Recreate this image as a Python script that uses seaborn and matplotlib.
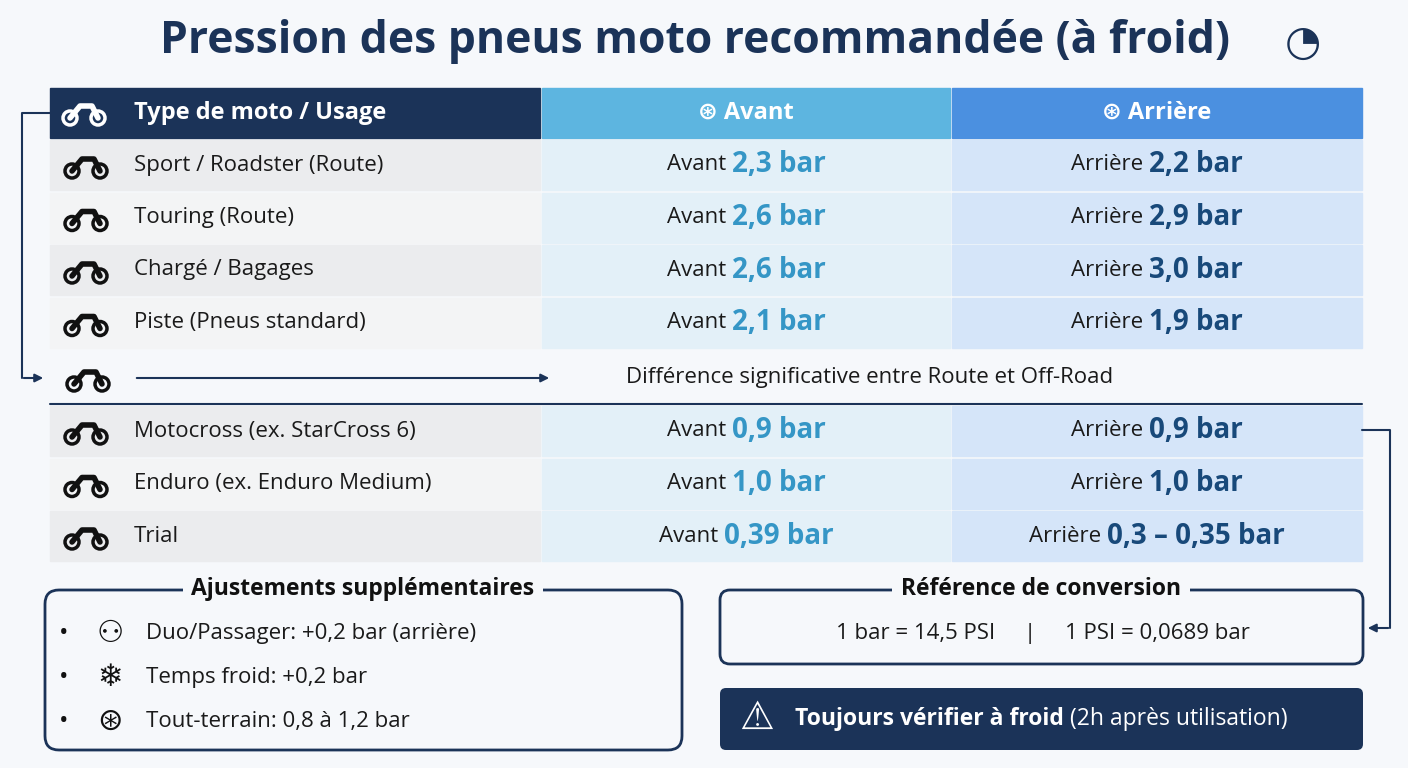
import matplotlib
matplotlib.use("Agg")
import matplotlib.pyplot as plt
import seaborn as sns
from matplotlib.patches import Rectangle, FancyBboxPatch, Circle

sns.set_theme(style="white")
plt.rcParams['font.family'] = ['Open Sans', 'DejaVu Sans']

road_types = ["Sport / Roadster (Route)", "Touring (Route)", "Chargé / Bagages", "Piste (Pneus standard)"]
road_front = ["2,3 bar", "2,6 bar", "2,6 bar", "2,1 bar"]
road_rear = ["2,2 bar", "2,9 bar", "3,0 bar", "1,9 bar"]
off_types = ["Motocross (ex. StarCross 6)", "Enduro (ex. Enduro Medium)", "Trial"]
off_front = ["0,9 bar", "1,0 bar", "0,39 bar"]
off_rear = ["0,9 bar", "1,0 bar", "0,3 – 0,35 bar"]
adjustments = ["Duo/Passager: +0,2 bar (arrière)", "Temps froid: +0,2 bar", "Tout-terrain: 0,8 à 1,2 bar"]

NAVY = "#1b3358"
FRONT_C = "#3596c6"
REAR_C = "#18497a"

fig = plt.figure(figsize=(14.08, 7.68), dpi=100)
ax = fig.add_axes([0, 0, 1, 1])
ax.set_xlim(0, 1408)
ax.set_ylim(768, 0)
ax.axis("off")
fig.patch.set_facecolor("#f6f8fb")
renderer = fig.canvas.get_renderer()

ax.text(695, 42, "Pression des pneus moto recommandée (à froid)", ha="center", va="center",
        fontsize=32, fontweight="bold", color=NAVY)
ax.text(1303, 44, "◔", ha="center", va="center", fontsize=30, color=NAVY)

cols = [(50, 540), (542, 950), (952, 1362)]

def bike(x, y, c="#111111"):
    ax.add_patch(Circle((x - 10, y + 6), 7, fill=False, lw=2.5, color=c))
    ax.add_patch(Circle((x + 18, y + 6), 7, fill=False, lw=2.5, color=c))
    ax.plot([x - 10, x, x + 12, x + 18], [y + 6, y - 6, y - 6, y + 6], color=c, lw=4)

def pair(xc, y, label, value, color):
    t1 = ax.text(0, y, label + " ", ha="left", va="center", fontsize=16, color="#1a1a1a")
    t2 = ax.text(0, y, value, ha="left", va="center", fontsize=20, fontweight="bold", color=color)
    inv = ax.transData.inverted()
    def w(t):
        bb = t.get_window_extent(renderer)
        return inv.transform((bb.x1, 0))[0] - inv.transform((bb.x0, 0))[0]
    w1, w2 = w(t1), w(t2)
    x0 = xc - (w1 + w2) / 2
    t1.set_x(x0)
    t2.set_x(x0 + w1)

# header
ax.add_patch(Rectangle((cols[0][0], 88), cols[0][1] - cols[0][0], 50, color=NAVY))
ax.add_patch(Rectangle((cols[1][0], 88), cols[1][1] - cols[1][0], 50, color="#5db5e0"))
ax.add_patch(Rectangle((cols[2][0], 88), cols[2][1] - cols[2][0], 50, color="#4b90e0"))
bike(80, 112, "white")
ax.text(134, 113, "Type de moto / Usage", va="center", fontsize=17, fontweight="bold", color="white")
ax.text(746, 113, "⊛ Avant", ha="center", va="center", fontsize=17, fontweight="bold", color="white")
ax.text(1157, 113, "⊛ Arrière", ha="center", va="center", fontsize=17, fontweight="bold", color="white")

def draw_rows(types, front, rear, y0):
    for i, (t, f, r) in enumerate(zip(types, front, rear)):
        y = y0 + i * 52.5
        ax.add_patch(Rectangle((cols[0][0], y), cols[0][1] - cols[0][0], 50,
                               color="#ebecee" if i % 2 == 0 else "#f3f4f5"))
        ax.add_patch(Rectangle((cols[1][0], y), cols[1][1] - cols[1][0], 50, color="#e3f0f8"))
        ax.add_patch(Rectangle((cols[2][0], y), cols[2][1] - cols[2][0], 50, color="#d5e5f9"))
        yc = y + 25
        bike(82, yc)
        ax.text(134, yc, t, va="center", fontsize=16, color="#1a1a1a")
        pair(746, yc, "Avant", f, FRONT_C)
        pair(1157, yc, "Arrière", r, REAR_C)

draw_rows(road_types, road_front, road_rear, 140)
draw_rows(off_types, off_front, off_rear, 406)

# separator row
bike(84, 378)
ax.annotate("", xy=(552, 378), xytext=(134, 378),
            arrowprops=dict(arrowstyle="-|>", color=NAVY, lw=1.5))
ax.text(870, 378, "Différence significative entre Route et Off-Road", ha="center", va="center",
        fontsize=16, color="#1a1a1a")
ax.plot([50, 1362], [404, 404], color=NAVY, lw=1.5)

# connector arrows
ax.plot([50, 22, 22], [113, 113, 378], color=NAVY, lw=1.5)
ax.annotate("", xy=(46, 378), xytext=(21, 378), arrowprops=dict(arrowstyle="-|>", color=NAVY, lw=1.5))
ax.plot([1362, 1390, 1390], [430, 430, 628], color=NAVY, lw=1.5)
ax.annotate("", xy=(1365, 628), xytext=(1391, 628), arrowprops=dict(arrowstyle="-|>", color=NAVY, lw=1.5))

# adjustments box
ax.add_patch(FancyBboxPatch((45, 590), 637, 160, boxstyle="round,pad=0,rounding_size=14",
                            fill=False, ec=NAVY, lw=2))
ax.text(363, 589, " Ajustements supplémentaires ", ha="center", va="center", fontsize=16.5,
        fontweight="bold", color="#111111", bbox=dict(fc="#f6f8fb", ec="none", pad=2))
for i, a in enumerate(adjustments):
    y = 634 + i * 44
    ax.text(64, y, "•", ha="center", va="center", fontsize=18, color="#111111")
    ax.text(110, y, ["⚇", "❄", "⊛"][i], ha="center", va="center", fontsize=22, color="#111111")
    ax.text(146, y, a, va="center", fontsize=16, color="#1a1a1a")

# conversion box
ax.add_patch(FancyBboxPatch((720, 590), 643, 74, boxstyle="round,pad=0,rounding_size=10",
                            fill=False, ec=NAVY, lw=2))
ax.text(1041, 589, " Référence de conversion ", ha="center", va="center", fontsize=16.5,
        fontweight="bold", color="#111111", bbox=dict(fc="#f6f8fb", ec="none", pad=2))
ax.text(1043, 633, "1 bar = 14,5 PSI     |     1 PSI = 0,0689 bar", ha="center", va="center",
        fontsize=16, color="#1a1a1a")

# warning box
ax.add_patch(FancyBboxPatch((720, 688), 643, 62, boxstyle="round,pad=0,rounding_size=6",
                            fc=NAVY, ec="none"))
ax.text(757, 719, "⚠", ha="center", va="center", fontsize=28, color="white")
wt = ax.text(795, 719, "Toujours vérifier à froid ", va="center", fontsize=16.5, fontweight="bold",
             color="white")
ax.annotate("(2h après utilisation)", xy=(1, 0.5), xycoords=wt, va="center", fontsize=16.5,
            color="white")

fig.savefig("out.png", dpi=100, facecolor=fig.get_facecolor())
